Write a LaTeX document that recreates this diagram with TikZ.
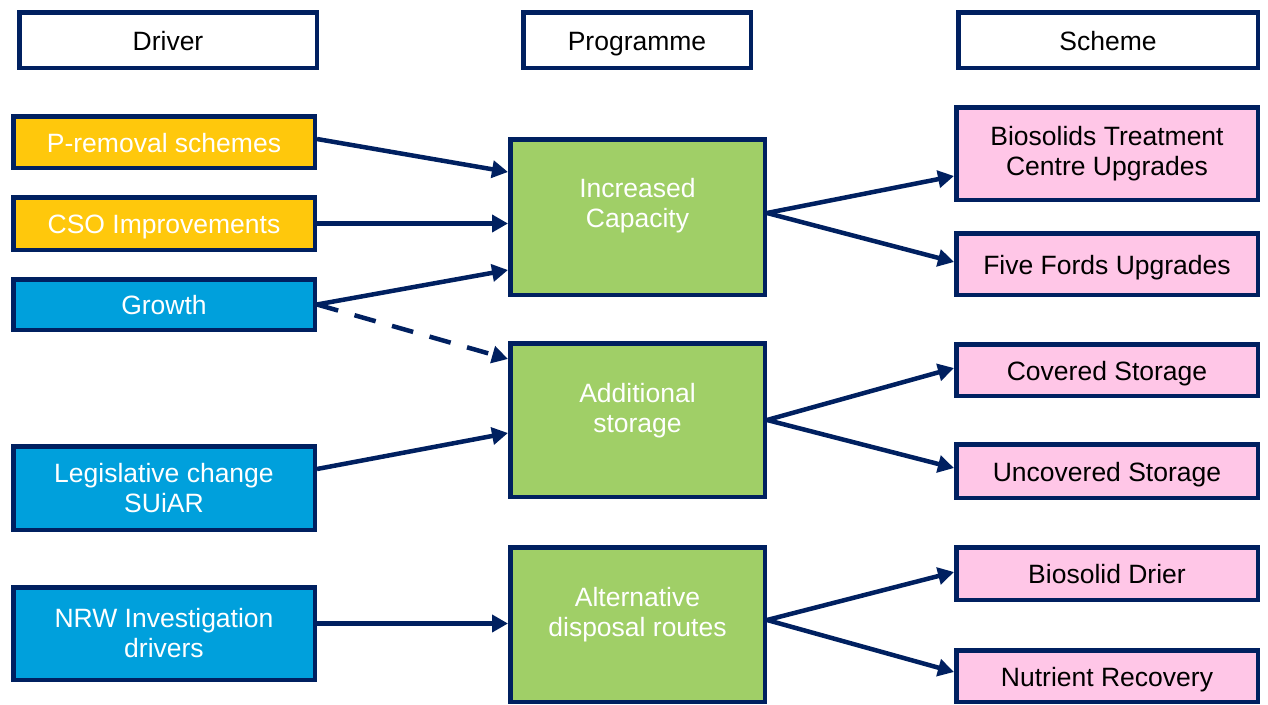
\documentclass[tikz,border=0pt]{standalone}
\usepackage{fontspec}
\setmainfont{Liberation Sans}
\usetikzlibrary{arrows.meta,calc}

\definecolor{navy}{HTML}{002060}
\definecolor{driveryellow}{HTML}{FFC80C}
\definecolor{driverblue}{HTML}{00A0DC}
\definecolor{proggreen}{HTML}{A0CF67}
\definecolor{schemepink}{HTML}{FFC6E7}

\tikzset{
  base/.style={draw=navy, line width=4.5pt, rectangle, inner sep=0pt,
    font=\fontsize{26.5}{30}\selectfont, align=center},
  oneline/.style={text height=20pt, text depth=0pt},
  headbox/.style={base, oneline, fill=white, text=black, minimum height=55.5pt},
  yellowbox/.style={base, oneline, fill=driveryellow, text=white, minimum width=301.5pt},
  bluebox/.style={base, fill=driverblue, text=white, minimum width=301.5pt},
  progbox/.style={base, fill=proggreen, minimum width=254.5pt, minimum height=153.5pt},
  progtext/.style={text=white, font=\fontsize{26.5}{30}\selectfont, align=center, inner sep=0pt},
  pinkbox/.style={base, fill=schemepink, text=black, minimum width=301.5pt},
  link/.style={draw=navy, line width=4.5pt, -{Triangle[length=16pt,width=17pt]}},
  dashlink/.style={link, dash pattern=on 22pt off 17pt},
}

\begin{document}
\begin{tikzpicture}[x=1pt,y=1pt]
\useasboundingbox (0,0) rectangle (1268,-704);

% column headings
\node[headbox, minimum width=297.5pt] (hdriver) at (168,-40) {Driver};
\node[headbox, minimum width=227.5pt] (hprog) at (637,-40) {Programme};
\node[headbox, minimum width=299.5pt] (hscheme) at (1108,-40) {Scheme};

% drivers
\node[yellowbox, minimum height=51.5pt] (pr) at (164,-142) {P-removal schemes};
\node[yellowbox, minimum height=52.5pt] (cso) at (164,-223.5) {CSO Improvements};
\node[bluebox, oneline, minimum height=50.5pt] (gr) at (164,-304.5) {Growth};
\node[bluebox, minimum height=83.5pt] (leg) at (164,-488) {Legislative change\\SUiAR};
\node[bluebox, minimum height=92.5pt] (nrw) at (164,-633.5) {NRW Investigation\\drivers};

% programmes
\node[progbox, minimum height=155.5pt] (inc) at (637.5,-217) {};
\node[progtext] (inctext) at ($(inc.center)+(0,11)$) {Increased\\Capacity};
\node[progbox] (add) at (637.5,-420) {};
\node[progtext] (addtext) at ($(add.center)+(0,9)$) {Additional\\storage};
\node[progbox, minimum height=154.5pt] (alt) at (637.5,-624.5) {};
\node[progtext] (alttext) at ($(alt.center)+(0,9.5)$) {Alternative\\disposal routes};

% schemes
\node[pinkbox, minimum height=92.5pt] (bio) at (1107,-153.5) {Biosolids Treatment\\Centre Upgrades};
\node[pinkbox, oneline, minimum height=61.5pt] (ff) at (1107,-264) {Five Fords Upgrades};
\node[pinkbox, oneline, minimum height=51.5pt] (cov) at (1107,-370) {Covered Storage};
\node[pinkbox, oneline, minimum height=53.5pt] (unc) at (1107,-471) {Uncovered Storage};
\node[pinkbox, oneline, minimum height=52.5pt] (dri) at (1107,-573.5) {Biosolid Drier};
\node[pinkbox, oneline, minimum height=51.5pt] (nut) at (1107,-676) {Nutrient Recovery};

% drivers to programmes
\draw[link] ($(pr.east)+(0,3)$) -- ($(inc.west)+(0,45)$);
\draw[link] (cso.east) -- (inc.west |- cso.east);
\draw[link] (gr.east) -- ($(inc.west)+(0,-53)$);
\draw[dashlink] (gr.east) -- ($(add.west)+(0,61)$);
\draw[link] ($(leg.east)+(0,19)$) -- ($(add.west)+(0,-13)$);
\coordinate (nrwout) at ($(nrw.east)+(0,10)$);
\draw[link] (nrwout) -- (alt.west |- nrwout);

% programmes to schemes
\coordinate (incout) at ($(inc.east)+(0,4)$);
\draw[link] (incout) -- ($(bio.west)+(0,-22.5)$);
\draw[link] (incout) -- ($(ff.west)+(0,2)$);
\draw[link] (add.east) -- ($(cov.west)+(0,2)$);
\draw[link] (add.east) -- ($(unc.west)+(0,3)$);
\coordinate (altout) at ($(alt.east)+(0,4.5)$);
\draw[link] (altout) -- ($(dri.west)+(0,1.5)$);
\draw[link] (altout) -- ($(nut.west)+(0,4)$);
\end{tikzpicture}
\end{document}
